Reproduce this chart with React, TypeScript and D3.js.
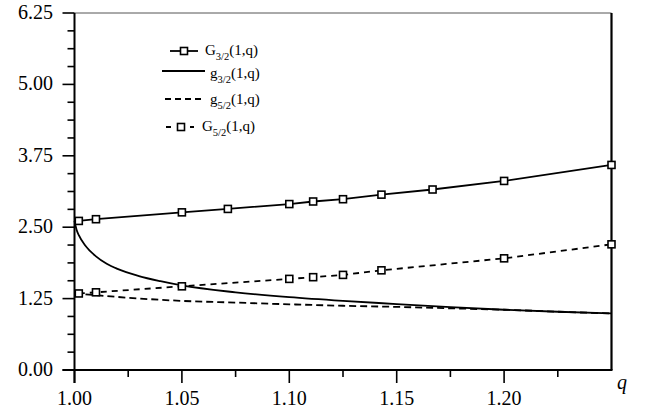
import React from 'react';
import * as d3 from 'd3';

// q values of the marker points (q = 1 + 1/n)
const qG32 = [1.002, 1.01, 1.05, 1.0714, 1.1, 1.1111, 1.125, 1.1429, 1.1667, 1.2, 1.25];
const valG32 = [2.61, 2.64, 2.76, 2.82, 2.905, 2.95, 2.99, 3.07, 3.16, 3.31, 3.59];

const qG52 = [1.002, 1.01, 1.05, 1.1, 1.1111, 1.125, 1.1429, 1.2, 1.25];
const valG52 = [1.34, 1.36, 1.465, 1.595, 1.625, 1.665, 1.745, 1.955, 2.2];

// smooth curves
const qg32 = [1.0, 1.001, 1.002, 1.005, 1.01, 1.015, 1.02, 1.03, 1.04, 1.05, 1.075, 1.1, 1.125, 1.15, 1.175, 1.2, 1.225, 1.25];
const valg32 = [2.61, 2.45, 2.36, 2.18, 1.99, 1.86, 1.77, 1.645, 1.555, 1.48, 1.36, 1.275, 1.21, 1.155, 1.1, 1.055, 1.02, 0.99];
const qg52 = [1.0, 1.01, 1.025, 1.05, 1.075, 1.1, 1.125, 1.15, 1.175, 1.2, 1.225, 1.25];
const valg52 = [1.34, 1.31, 1.265, 1.21, 1.18, 1.15, 1.125, 1.105, 1.08, 1.055, 1.02, 0.99];

const yMajor = [0, 1.25, 2.5, 3.75, 5, 6.25];
const xMajor = [1.0, 1.05, 1.1, 1.15, 1.2];

const W = 645, H = 413;
const L = 74.5, R = 611.5, T = 13, B = 370;

const x = d3.scaleLinear().domain([1, 1.25]).range([L, R]);
const y = d3.scaleLinear().domain([0, 6.25]).range([B, T]);

const line = d3.line<[number, number]>().x(d => x(d[0])).y(d => y(d[1]));
const curve = d3.line<[number, number]>().x(d => x(d[0])).y(d => y(d[1])).curve(d3.curveMonotoneX);

const zip = (a: number[], b: number[]) => a.map((v, i) => [v, b[i]] as [number, number]);

const serif = '"Liberation Serif", "Times New Roman", serif';

function Square({ cx, cy }: { cx: number; cy: number }) {
  return <rect x={cx - 3.5} y={cy - 3.5} width={7} height={7} fill="white" stroke="black" strokeWidth={1.6} />;
}

function Label({ xx, yy, big, sub }: { xx: number; yy: number; big: string; sub: string }) {
  return (
    <text x={xx} y={yy} fontFamily={serif} fontSize={15}>
      {big}
      <tspan fontSize={10.5} dy={5}>{sub}</tspan>
      <tspan dy={-5}>(1,q)</tspan>
    </text>
  );
}

export default function App() {
  const yMinor = d3.range(0, 6.25 + 1e-9, 0.3125).filter(v => !yMajor.some(m => Math.abs(m - v) < 1e-6));
  const xMinor = [1.025, 1.075, 1.125, 1.175, 1.225];
  return (
    <svg width={W} height={H} style={{ position: 'absolute', left: 0, top: 0, background: 'white' }}>
      {/* frame */}
      <line x1={L} x2={R} y1={T} y2={T} stroke="#555" strokeWidth={1} />
      <line x1={R} x2={R} y1={T} y2={B} stroke="black" strokeWidth={2.2} />
      <line x1={L} x2={L} y1={T} y2={B + 13} stroke="black" strokeWidth={2} />
      <line x1={L - 12} x2={R + 1} y1={B} y2={B} stroke="black" strokeWidth={2} />

      {/* y ticks */}
      {yMajor.map(v => (
        <g key={'ym' + v}>
          <line x1={L - 12} x2={L} y1={y(v)} y2={y(v)} stroke="black" strokeWidth={1.6} />
          <text x={53} y={y(v) + 6} textAnchor="end" fontFamily={serif} fontSize={20}>{d3.format('.2f')(v)}</text>
        </g>
      ))}
      {yMinor.map(v => (
        <line key={'yn' + v} x1={L - 7} x2={L} y1={y(v)} y2={y(v)} stroke="black" strokeWidth={1.6} />
      ))}

      {/* x ticks */}
      {xMajor.map(v => (
        <g key={'xm' + v}>
          <line x1={x(v)} x2={x(v)} y1={B} y2={B + 13} stroke="black" strokeWidth={1.6} />
          <text x={x(v)} y={405} textAnchor="middle" fontFamily={serif} fontSize={20}>{d3.format('.2f')(v)}</text>
        </g>
      ))}
      {xMinor.map(v => (
        <line key={'xn' + v} x1={x(v)} x2={x(v)} y1={B} y2={B + 7} stroke="black" strokeWidth={1.6} />
      ))}
      <text x={617} y={389} fontFamily={serif} fontSize={20} fontStyle="italic">q</text>

      {/* curves */}
      <path d={curve(zip(qg32, valg32)) || ''} fill="none" stroke="black" strokeWidth={1.8} />
      <path d={curve(zip(qg52, valg52)) || ''} fill="none" stroke="black" strokeWidth={1.8} strokeDasharray="7,4" />
      <path d={line(zip(qG32, valG32)) || ''} fill="none" stroke="black" strokeWidth={1.8} />
      <path d={line(zip(qG52, valG52)) || ''} fill="none" stroke="black" strokeWidth={1.8} strokeDasharray="6,5" />
      {qG32.map((q, i) => <Square key={'a' + i} cx={x(q)} cy={y(valG32[i])} />)}
      {qG52.map((q, i) => <Square key={'b' + i} cx={x(q)} cy={y(valG52[i])} />)}

      {/* legend */}
      <line x1={170} x2={198} y1={51} y2={51} stroke="black" strokeWidth={1.8} />
      <Square cx={184} cy={51} />
      <Label xx={205} yy={55} big="G" sub="3/2" />

      <line x1={162} x2={205} y1={71} y2={71} stroke="black" strokeWidth={1.8} />
      <Label xx={210} yy={78} big="g" sub="3/2" />

      <line x1={165} x2={204} y1={99} y2={99} stroke="black" strokeWidth={1.8} strokeDasharray="6,4" />
      <Label xx={210} yy={104} big="g" sub="5/2" />

      <line x1={166} x2={194} y1={127} y2={127} stroke="black" strokeWidth={1.8} strokeDasharray="5,7" />
      <Square cx={181} cy={127} />
      <Label xx={202} yy={131} big="G" sub="5/2" />
    </svg>
  );
}
